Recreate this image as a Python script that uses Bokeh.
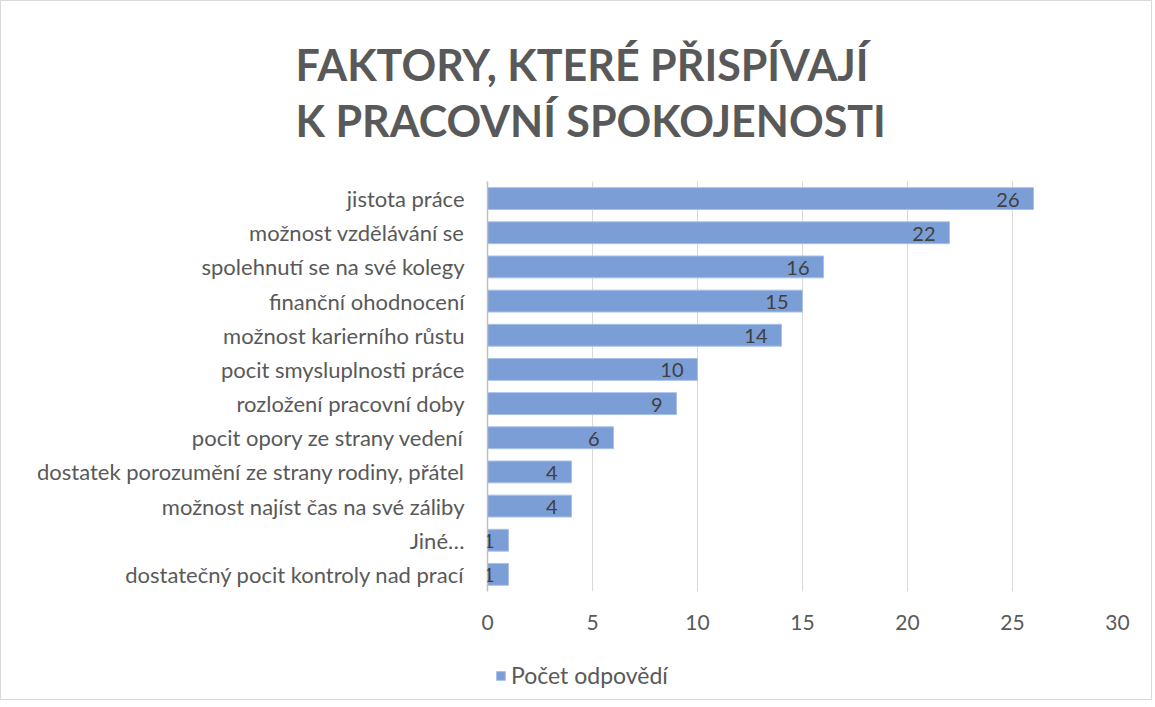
from bokeh.plotting import figure
from bokeh.layouts import column
from bokeh.models import ColumnDataSource, FactorRange, Range1d, LabelSet, Title, Legend, LegendItem, FixedTicker
from bokeh.core.properties import value
from bokeh.embed import file_html
from bokeh.resources import INLINE

categories = [
    "jistota práce",
    "možnost vzdělávání se",
    "spolehnutí se na své kolegy",
    "finanční ohodnocení",
    "možnost karierního růstu",
    "pocit smysluplnosti práce",
    "rozložení pracovní doby",
    "pocit opory ze strany vedení",
    "dostatek porozumění ze strany rodiny, přátel",
    "možnost najíst čas na své záliby",
    "Jiné…",
    "dostatečný pocit kontroly nad prací",
]
values = [26, 22, 16, 15, 14, 10, 9, 6, 4, 4, 1, 1]
series_name = "Počet odpovědí"
title_lines = ["FAKTORY, KTERÉ PŘISPÍVAJÍ", "K PRACOVNÍ SPOKOJENOSTI"]
x_ticks = [0, 5, 10, 15, 20, 25, 30]

FONT = "Lato"
TXT = "#595959"
BAR_FILL = "#7b9ed7"
BAR_LINE = "#a9c1e8"

src = ColumnDataSource(dict(cat=categories, val=values, lbl=[str(v) for v in values]))

p = figure(
    frame_width=630, frame_height=410,
    y_range=FactorRange(factors=list(reversed(categories)), range_padding=0),
    x_range=Range1d(0, 30),
    output_backend="svg", toolbar_location=None,
    min_border_left=486, min_border_right=34, min_border_top=180, min_border_bottom=56,
)
p.outline_line_color = None

bars = p.hbar(y="cat", right="val", left=0, height=0.64, source=src,
              fill_color=BAR_FILL, line_color=BAR_LINE, line_width=1)

labels = LabelSet(x="val", y="cat", text="lbl", source=src, text_align="right",
                  text_baseline="middle", x_offset=-14, y_offset=-1,
                  text_font=value(FONT), text_font_size="20px", text_color="#404040")
p.add_layout(labels)

# axes
p.xaxis.ticker = FixedTicker(ticks=x_ticks)
p.xaxis.axis_line_color = None
p.xaxis.major_tick_line_color = None
p.xaxis.minor_tick_line_color = None
p.xaxis.major_label_text_font = FONT
p.xaxis.major_label_text_font_size = "21px"
p.xaxis.major_label_text_color = TXT
p.xaxis.major_label_standoff = 17

p.yaxis.axis_line_color = "#bfbfbf"
p.yaxis.axis_line_width = 1.5
p.yaxis.major_tick_line_color = None
p.yaxis.minor_tick_line_color = None
p.yaxis.major_label_text_font = FONT
p.yaxis.major_label_text_font_size = "22px"
p.yaxis.major_label_text_color = TXT
p.yaxis.major_label_standoff = 17

p.xgrid.grid_line_color = "#d9d9d9"
p.ygrid.grid_line_color = None

# two-line title
p.add_layout(Title(text="\n".join(title_lines), align="left", offset=-192, standoff=70,
                   text_font=FONT, text_font_style="bold", text_font_size="43px",
                   text_line_height=1.1, text_color=TXT), "above")

# legend strip below the chart
leg = figure(width=1146, height=52, x_range=Range1d(0, 1), y_range=Range1d(0, 1),
             x_axis_type=None, y_axis_type=None, output_backend="svg",
             toolbar_location=None, min_border=0)
leg.outline_line_color = None
leg.grid.visible = False
# placeholder renderer (outside the visible range) that only supplies the legend swatch
swatch = leg.hbar(y=[-1], right=[1], height=0.5, fill_color=BAR_FILL, line_color=BAR_LINE)
legend = Legend(items=[LegendItem(label=series_name, renderers=[swatch])],
                location=(8, 10), orientation="horizontal",
                padding=0, margin=0, spacing=0,
                glyph_width=11, glyph_height=11, label_standoff=5,
                label_text_font=FONT, label_text_font_size="23px", label_text_color=TXT,
                border_line_alpha=0, background_fill_alpha=0)
leg.add_layout(legend, "center")

page = column(p, leg, spacing=0, styles={"border": "1px solid #d9d9d9"})

open("out.html", "w").write(file_html(page, INLINE))
